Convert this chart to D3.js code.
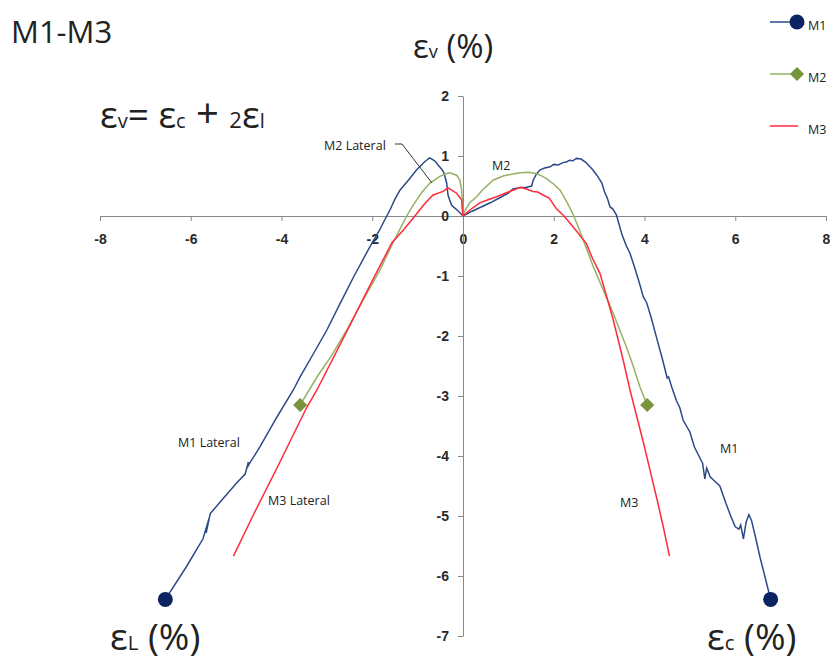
<!DOCTYPE html>
<html>
<head>
<meta charset="utf-8">
<script src="https://cdn.jsdelivr.net/npm/d3@7"></script>
<style>
  body { margin: 0; background: #fff; }
  text { font-family: "Open Sans", "DejaVu Sans", sans-serif; }
  .tick text { font-family: "Liberation Sans", Arial, sans-serif; font-size: 14px; font-weight: bold; fill: #2a2a2a; }
  .tick line, .domain { stroke: #888; }
</style>
</head>
<body>
<div class="chart"></div>
<script>
// strain data: [strain %, volumetric strain %]
var m1Axial = [[0,0],[0.2,0.08],[0.4,0.15],[0.6,0.22],[0.8,0.3],[1.0,0.38],[1.1,0.45],[1.25,0.47],[1.4,0.48],[1.51,0.5],
  [1.55,0.6],[1.62,0.7],[1.7,0.77],[1.8,0.8],[1.92,0.82],[2.0,0.86],[2.1,0.85],[2.2,0.89],[2.28,0.9],[2.35,0.93],[2.42,0.92],
  [2.5,0.96],[2.6,0.95],[2.7,0.9],[2.86,0.77],[2.95,0.68],[3.06,0.55],[3.12,0.4],[3.18,0.3],[3.24,0.15],[3.3,0.12],[3.38,0.02],
  [3.5,-0.3],[3.6,-0.5],[3.68,-0.62],[3.8,-0.9],[3.9,-1.15],[3.97,-1.34],[4.05,-1.45],[4.15,-1.7],[4.26,-2.01],[4.4,-2.4],
  [4.5,-2.7],[4.53,-2.68],[4.6,-2.85],[4.7,-3.07],[4.78,-3.2],[4.85,-3.4],[5.0,-3.6],[5.1,-3.85],[5.2,-4.0],[5.28,-4.12],
  [5.33,-4.38],[5.37,-4.2],[5.45,-4.35],[5.55,-4.42],[5.66,-4.5],[5.8,-4.8],[5.9,-5.0],[6.0,-5.18],[6.08,-5.22],[6.12,-5.15],
  [6.18,-5.38],[6.24,-5.1],[6.3,-4.98],[6.36,-5.08],[6.43,-5.3],[6.55,-5.7],[6.65,-6.0],[6.78,-6.39]];
var m1Lateral = [[0,0],[-0.1,0.08],[-0.25,0.18],[-0.3,0.28],[-0.33,0.35],[-0.36,0.55],[-0.42,0.72],[-0.47,0.78],[-0.55,0.85],
  [-0.6,0.9],[-0.65,0.93],[-0.73,0.97],[-0.77,0.95],[-0.85,0.9],[-1.02,0.77],[-1.2,0.6],[-1.39,0.43],[-1.5,0.28],[-1.61,0.1],
  [-1.68,0],[-1.85,-0.25],[-2.05,-0.51],[-2.4,-1.0],[-2.71,-1.46],[-3.0,-1.9],[-3.3,-2.3],[-3.59,-2.68],[-3.74,-2.9],
  [-4.1,-3.35],[-4.47,-3.84],[-4.7,-4.12],[-4.76,-4.2],[-4.73,-4.1],[-4.8,-4.3],[-4.99,-4.45],[-5.3,-4.72],[-5.57,-4.96],
  [-5.66,-5.28],[-5.6,-5.05],[-5.73,-5.38],[-6.1,-5.85],[-6.56,-6.39]];
var m2Axial = [[0,0],[0.05,0.1],[0.15,0.22],[0.3,0.32],[0.45,0.45],[0.67,0.6],[0.9,0.67],[1.1,0.7],[1.26,0.72],[1.45,0.73],
  [1.6,0.71],[1.7,0.68],[1.85,0.62],[2.0,0.53],[2.14,0.43],[2.3,0.22],[2.43,0.02],[2.55,-0.2],[2.65,-0.4],[2.87,-0.84],
  [3.1,-1.25],[3.31,-1.62],[3.6,-2.18],[3.75,-2.5],[3.9,-2.85],[4.06,-3.15]];
var m2Lateral = [[0,0],[-0.01,0.2],[-0.03,0.43],[-0.07,0.6],[-0.14,0.68],[-0.29,0.72],[-0.4,0.7],[-0.51,0.66],[-0.73,0.55],
  [-0.9,0.4],[-1.02,0.27],[-1.15,0.12],[-1.24,0],[-1.5,-0.38],[-1.83,-0.9],[-2.2,-1.4],[-2.56,-1.9],[-2.9,-2.33],
  [-3.19,-2.65],[-3.35,-2.85],[-3.59,-3.15]];
var m3Axial = [[0,0],[0.15,0.1],[0.37,0.22],[0.55,0.27],[0.74,0.32],[0.9,0.37],[1.1,0.43],[1.26,0.48],[1.4,0.45],[1.54,0.41],
  [1.65,0.4],[1.76,0.35],[1.9,0.3],[2.06,0.12],[2.2,0.02],[2.36,-0.12],[2.5,-0.25],[2.72,-0.46],[2.85,-0.7],[3.02,-0.96],
  [3.15,-1.3],[3.31,-1.73],[3.53,-2.4],[3.68,-2.9],[3.85,-3.4],[4.0,-3.85],[4.12,-4.23],[4.3,-4.8],[4.42,-5.2],[4.55,-5.67]];
var m3Lateral = [[0,0],[-0.02,0.15],[-0.03,0.27],[-0.14,0.38],[-0.25,0.43],[-0.33,0.47],[-0.44,0.41],[-0.66,0.35],
  [-0.85,0.2],[-1.06,0],[-1.3,-0.22],[-1.57,-0.45],[-2.0,-1.08],[-2.6,-1.98],[-3.22,-2.9],[-3.45,-3.2],[-4.1,-4.2],
  [-4.6,-4.95],[-5.06,-5.67]];

var seriesNames = ["M1", "M2", "M3"];
var xTicks = [-8, -6, -4, -2, 0, 2, 4, 6, 8];
var yTicks = [2, 1, 0, -1, -2, -3, -4, -5, -6, -7];

var width = 830, height = 660;
var svg = d3.select("div.chart").append("svg").attr("width", width).attr("height", height);

// scales
var xScale = d3.scaleLinear().domain([-8, 8]).range([100, 826]);
var yScale = d3.scaleLinear().domain([-7, 2]).range([636, 96]);

// axes cross at the origin, plain hyphen as minus like Excel
var fmt = function(d) { return String(d); };
svg.append("g")
  .attr("transform", "translate(0," + yScale(0) + ")")
  .call(d3.axisBottom(xScale).tickValues(xTicks).tickFormat(fmt).tickSize(5).tickSizeOuter(0).tickPadding(13));

svg.append("g")
  .attr("transform", "translate(" + xScale(0) + ",0)")
  .call(d3.axisLeft(yScale).tickValues(yTicks).tickFormat(fmt).tickSize(5).tickSizeOuter(0).tickPadding(9));

var line = d3.line()
  .x(function(d) { return xScale(d[0]); })
  .y(function(d) { return yScale(d[1]); });

var series = [
  { data: [m1Axial, m1Lateral], color: "#2c4a88", marker: "circle", mcolor: "#0c2461" },
  { data: [m2Axial, m2Lateral], color: "#94b266", marker: "diamond", mcolor: "#77933c" },
  { data: [m3Axial, m3Lateral], color: "#ff2a3a", marker: "none", mcolor: "#ff2a3a" }
];

series.forEach(function(s) {
  s.data.forEach(function(branch) {
    svg.append("path")
      .datum(branch)
      .attr("fill", "none")
      .attr("stroke", s.color)
      .attr("stroke-width", 1.5)
      .attr("d", line);
  });
});

function drawMarker(g, type, color, x, y) {
  if (type == "circle") {
    g.append("circle").attr("cx", x).attr("cy", y).attr("r", 7.5).attr("fill", color);
  } else if (type == "diamond") {
    g.append("path").attr("d", d3.symbol(d3.symbolSquare, 100)())
      .attr("transform", "translate(" + x + "," + y + ") rotate(45)").attr("fill", color);
  }
}

series.forEach(function(s) {
  s.data.forEach(function(branch) {
    var last = branch[branch.length - 1];
    drawMarker(svg, s.marker, s.mcolor, xScale(last[0]), yScale(last[1]));
  });
});

// legend
seriesNames.forEach(function(name, i) {
  var ly = 22 + i * 52;
  var s = series[i];
  svg.append("line").attr("x1", 770).attr("x2", 798).attr("y1", ly).attr("y2", ly)
    .attr("stroke", s.color).attr("stroke-width", 1.5);
  drawMarker(svg, s.marker, s.mcolor, 797, ly);
  svg.append("text").attr("x", 808).attr("y", ly + 8).attr("font-size", "12.5px").attr("fill", "#222").text(name);
});

// labels in the plot
var labels = [
  { t: "M1 Lateral", x: 178, y: 447 },
  { t: "M3 Lateral", x: 268, y: 505 },
  { t: "M1", x: 720, y: 453 },
  { t: "M3", x: 620, y: 507 },
  { t: "M2", x: 492, y: 170 },
  { t: "M2 Lateral", x: 324, y: 150 }
];
labels.forEach(function(l) {
  svg.append("text").attr("x", l.x).attr("y", l.y).attr("font-size", "12.5px").attr("fill", "#222").text(l.t);
});
svg.append("path").attr("d", "M395,144H402L432,183").attr("fill", "none").attr("stroke", "#333").attr("stroke-width", 1);

// big texts
svg.append("text").attr("x", 11).attr("y", 43).attr("font-size", "31px").attr("fill", "#222").text("M1-M3");

function epsLabel(x, y, sub, rest, big) {
  var t = svg.append("text").attr("x", x).attr("y", y).attr("fill", "#222").attr("font-size", big + "px");
  t.append("tspan").text("ε");
  t.append("tspan").attr("font-size", (big * 0.55) + "px").text(sub);
  t.append("tspan").text(rest);
  return t;
}
epsLabel(413, 58, "v", " (%)", 33);
epsLabel(110, 650, "L", " (%)", 37);
epsLabel(707, 650, "c", " (%)", 37);

var eq = svg.append("text").attr("x", 100).attr("y", 128).attr("fill", "#222").attr("font-size", "37px");
eq.append("tspan").text("ε");
eq.append("tspan").attr("font-size", "20px").text("v");
eq.append("tspan").text("= ε");
eq.append("tspan").attr("font-size", "20px").text("c");
eq.append("tspan").attr("font-size", "40px").text(" + ");
eq.append("tspan").attr("font-size", "22px").text("2");
eq.append("tspan").text("ε");
eq.append("tspan").attr("font-size", "20px").text("l");
</script>
</body>
</html>
